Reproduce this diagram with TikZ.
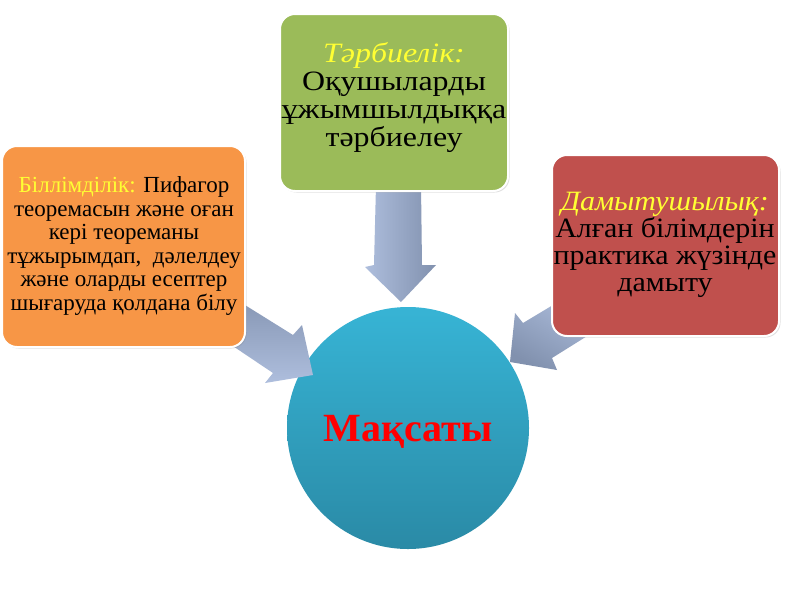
\documentclass[tikz,border=0pt]{standalone}
\usepackage{fontspec}
\setmainfont{Liberation Serif}
\newfontfamily\greenfont[FakeStretch=1.14]{Liberation Serif}
\newfontfamily\redfont[FakeStretch=1.07]{Liberation Serif}
\usetikzlibrary{shadows}
\definecolor{orangebox}{HTML}{F79646}
\definecolor{greenbox}{HTML}{9BBB59}
\definecolor{redbox}{HTML}{C0504D}
\definecolor{arrowlight}{HTML}{AEBEDD}
\definecolor{arrowdark}{HTML}{8191AE}
\definecolor{circtop}{HTML}{37B4D5}
\definecolor{circbot}{HTML}{2A8AA6}
\definecolor{labelyellow}{HTML}{FFFF33}
\tikzset{
  goalbox/.style={rounded corners=15pt, draw=white, line width=2pt,
    drop shadow={opacity=0.25, shadow xshift=1.5pt, shadow yshift=-1.5pt}},
  blockarrow/.style={draw=none},
  boxtext/.style={align=center, text=black, inner sep=0pt},
}
\begin{document}
\begin{tikzpicture}[x=1pt,y=-1pt]
\useasboundingbox (0,0) rectangle (800,600);
\fill[white] (0,0) rectangle (800,600);
% central circle
\shade[top color=circtop, bottom color=circbot] (408,428) circle (121pt);
\node[font=\fontsize{40}{44}\selectfont\bfseries, text=red] (goal) at (408,432) {Мақсаты};
% arrows
\path[blockarrow, top color=arrowdark, bottom color=arrowlight] (216,287) -- (293,335) -- (302,325) -- (313,375) -- (265,383) -- (273,373) -- (212,332) -- cycle;
\path[blockarrow, top color=arrowlight, bottom color=arrowdark, shading angle=-30] (573,293) -- (523,323) -- (515,313) -- (510,362) -- (557,370) -- (552,358) -- (600,328) -- cycle;
\path[blockarrow, left color=arrowlight, right color=arrowdark] (376,185) -- (421,185) -- (422,265) -- (436,265) -- (401,302) -- (365,267) -- (374,265) -- cycle;
% boxes
\filldraw[goalbox, fill=orangebox] (2,146) rectangle (245,347);
\filldraw[goalbox, fill=greenbox] (280,14) rectangle (508,191);
\filldraw[goalbox, fill=redbox] (552,155) rectangle (779,336);
\node[boxtext, font=\fontsize{23}{23.5}\selectfont] (edu) at (124,246)
  {\textcolor{labelyellow}{Біллімділік:} Пифагор\\теоремасын және оған\\кері теореманы\\тұжырымдап,~ дәлелдеу\\және оларды есептер\\шығаруда қолдана білу};
\node[boxtext, font=\greenfont\fontsize{28}{28}\selectfont] (vos) at (394,97)
  {\textcolor{labelyellow}{\itshape Тәрбиелік:}\\Оқушыларды\\ұжымшылдыққа\\тәрбиелеу};
\node[boxtext, font=\redfont\fontsize{28}{27}\selectfont] (dev) at (665,245)
  {\textcolor{labelyellow}{\itshape Дамытушылық:}\\Алған білімдерін\\практика жүзінде\\дамыту};
\end{tikzpicture}
\end{document}
